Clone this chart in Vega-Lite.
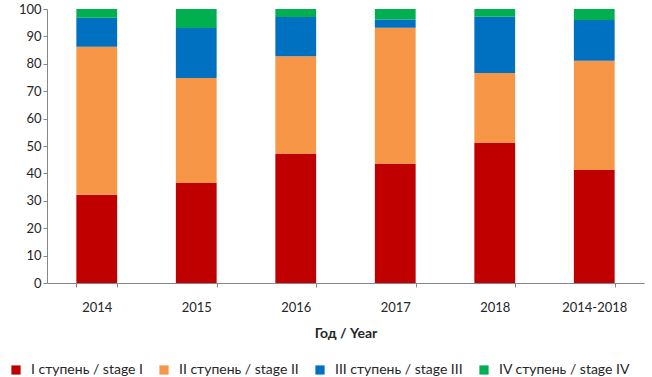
{
  "$schema": "https://vega.github.io/schema/vega-lite/v6.json",
  "width": 597,
  "height": 274,
  "padding": {"left": 9, "top": 3, "right": 4, "bottom": 0},
  "background": "white",
  "config": {
    "font": "Lato",
    "view": {"stroke": null}
  },
  "data": {
    "values": [
      {"year": "2014", "stage": "I ступень / stage I", "o": 1, "v": 32.2},
      {"year": "2014", "stage": "II ступень / stage II", "o": 2, "v": 54.0},
      {"year": "2014", "stage": "III ступень / stage III", "o": 3, "v": 10.6},
      {"year": "2014", "stage": "IV ступень / stage IV", "o": 4, "v": 3.2},
      {"year": "2015", "stage": "I ступень / stage I", "o": 1, "v": 36.5},
      {"year": "2015", "stage": "II ступень / stage II", "o": 2, "v": 38.3},
      {"year": "2015", "stage": "III ступень / stage III", "o": 3, "v": 18.3},
      {"year": "2015", "stage": "IV ступень / stage IV", "o": 4, "v": 6.9},
      {"year": "2016", "stage": "I ступень / stage I", "o": 1, "v": 47.1},
      {"year": "2016", "stage": "II ступень / stage II", "o": 2, "v": 35.7},
      {"year": "2016", "stage": "III ступень / stage III", "o": 3, "v": 14.3},
      {"year": "2016", "stage": "IV ступень / stage IV", "o": 4, "v": 2.9},
      {"year": "2017", "stage": "I ступень / stage I", "o": 1, "v": 43.4},
      {"year": "2017", "stage": "II ступень / stage II", "o": 2, "v": 49.8},
      {"year": "2017", "stage": "III ступень / stage III", "o": 3, "v": 3.0},
      {"year": "2017", "stage": "IV ступень / stage IV", "o": 4, "v": 3.8},
      {"year": "2018", "stage": "I ступень / stage I", "o": 1, "v": 51.1},
      {"year": "2018", "stage": "II ступень / stage II", "o": 2, "v": 25.5},
      {"year": "2018", "stage": "III ступень / stage III", "o": 3, "v": 20.6},
      {"year": "2018", "stage": "IV ступень / stage IV", "o": 4, "v": 2.8},
      {"year": "2014-2018", "stage": "I ступень / stage I", "o": 1, "v": 41.2},
      {"year": "2014-2018", "stage": "II ступень / stage II", "o": 2, "v": 39.9},
      {"year": "2014-2018", "stage": "III ступень / stage III", "o": 3, "v": 14.9},
      {"year": "2014-2018", "stage": "IV ступень / stage IV", "o": 4, "v": 4.0}
    ]
  },
  "mark": {"type": "bar"},
  "encoding": {
    "x": {
      "field": "year",
      "type": "nominal",
      "sort": null,
      "scale": {"paddingInner": 0.59, "paddingOuter": 0.295},
      "axis": {
        "title": "Год / Year",
        "titleFont": "Lato",
        "titleFontSize": 14,
        "titleFontWeight": "bold",
        "titleColor": "#262626",
        "titlePadding": 12,
        "labelAngle": 0,
        "labelFontSize": 13,
        "labelColor": "#262626",
        "labelPadding": 14,
        "tickBand": "extent",
        "tickColor": "#868686",
        "tickSize": 4,
        "domainColor": "#868686"
      }
    },
    "y": {
      "field": "v",
      "type": "quantitative",
      "stack": "zero",
      "scale": {"domain": [0, 100]},
      "axis": {
        "title": null,
        "grid": false,
        "values": [0, 10, 20, 30, 40, 50, 60, 70, 80, 90, 100],
        "labelFontSize": 13,
        "labelColor": "#262626",
        "tickColor": "#868686",
        "tickSize": 4,
        "domainColor": "#868686"
      }
    },
    "color": {
      "field": "stage",
      "type": "nominal",
      "sort": ["I ступень / stage I", "II ступень / stage II", "III ступень / stage III", "IV ступень / stage IV"],
      "scale": {
        "domain": ["I ступень / stage I", "II ступень / stage II", "III ступень / stage III", "IV ступень / stage IV"],
        "range": ["#C00000", "#F79646", "#0070C0", "#00B050"]
      },
      "legend": {
        "title": null,
        "orient": "none",
        "legendX": -38,
        "legendY": 354,
        "direction": "horizontal",
        "symbolType": "square",
        "symbolSize": 85,
        "labelFontSize": 14,
        "labelColor": "#262626",
        "labelOffset": 8,
        "columnPadding": 14
      }
    },
    "order": {"field": "o", "type": "quantitative"}
  }
}
